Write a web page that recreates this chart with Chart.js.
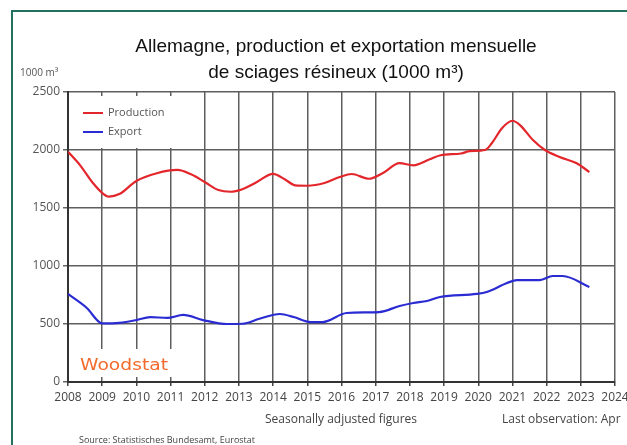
<!DOCTYPE html>
<html>
<head>
<meta charset="utf-8">
<script src="https://cdn.jsdelivr.net/npm/chart.js@4"></script>
<style>
  html, body { margin: 0; padding: 0; background: #fff; }
  canvas { display: block; }
</style>
</head>
<body>
<canvas id="chart" width="627" height="445"></canvas>
<script>
// Valeurs (1000 m3, séries désaisonnalisées)
const prodDates = [2008.0, 2008.35, 2008.73, 2009.0, 2009.2, 2009.5, 2010.0, 2010.6, 2011.2, 2011.6,
    2012.0, 2012.4, 2012.75, 2013.1, 2013.5, 2014.0, 2014.35, 2014.65, 2015.0, 2015.5,
    2015.95, 2016.3, 2016.8, 2017.2, 2017.7, 2018.1, 2018.58, 2018.9, 2019.5, 2019.75,
    2020.2, 2020.4, 2020.7, 2021.0, 2021.22, 2021.6, 2021.95, 2022.38, 2022.88, 2023.25];
const prodValues = [1985, 1870, 1715, 1630, 1598, 1620, 1733, 1800, 1828, 1790,
    1724, 1655, 1640, 1662, 1720, 1795, 1745, 1695, 1692, 1715,
    1767, 1793, 1752, 1800, 1886, 1868, 1920, 1955, 1970, 1990,
    2000, 2060, 2190, 2252, 2215, 2086, 2000, 1940, 1885, 1810];

const exportDates = [2008.0, 2008.55, 2009.0, 2009.5, 2010.0, 2010.4, 2010.9, 2011.37, 2011.95, 2012.65,
    2013.1, 2013.6, 2014.2, 2014.6, 2015.1, 2015.45, 2016.15, 2017.1, 2017.7, 2018.1,
    2018.5, 2018.88, 2019.96, 2020.25, 2020.84, 2021.13, 2021.8, 2022.18, 2022.47, 2023.25];
const exportValues = [759, 638, 505, 510, 534, 560, 552, 578, 534, 500,
    502, 545, 586, 560, 517, 517, 595, 603, 655, 681,
    698, 733, 759, 776, 853, 879, 879, 914, 914, 819];

const seriesNames = ['Production', 'Export'];
const seriesColors = ['#e3262b', '#2b2bd3'];

const yearMin = 2008;
const yearMax = 2024;
const yTicks = [0, 500, 1000, 1500, 2000, 2500];

const titleLines = ['Allemagne, production et exportation mensuelle', 'de sciages résineux (1000 m³)'];

const toPoints = (xs, ys) => xs.map((x, i) => ({ x: x, y: ys[i] }));

const axisFont = { family: "'Open Sans', 'DejaVu Sans', sans-serif", size: 12 };

// fond blanc, cadre vert et textes autour du graphique
const decorPlugin = {
    id: 'decor',
    beforeDraw(chart) {
        const ctx = chart.ctx;
        ctx.save();
        ctx.fillStyle = '#fff';
        ctx.fillRect(0, 0, chart.width, chart.height);
        ctx.strokeStyle = '#22705d';
        ctx.lineWidth = 2;
        ctx.beginPath();
        ctx.moveTo(12, chart.height);
        ctx.lineTo(12, 11);
        ctx.lineTo(chart.width, 11);
        ctx.stroke();
        ctx.restore();
    },
    beforeDatasetsDraw(chart) {
        const ctx = chart.ctx;
        const a = chart.chartArea;
        ctx.save();
        // cases blanches sous la légende et sous le logo
        ctx.fillStyle = '#fff';
        ctx.fillRect(a.left + 2, a.top + 4, 108, 52);
        ctx.fillRect(a.left + 2, a.bottom - 33, 108, 28);

        // légende
        ctx.font = "11px 'Open Sans', 'DejaVu Sans', sans-serif";
        ctx.textBaseline = 'middle';
        chart.data.datasets.forEach((ds, i) => {
            const y = a.top + 21 + i * 19;
            ctx.strokeStyle = ds.borderColor;
            ctx.lineWidth = 2;
            ctx.beginPath();
            ctx.moveTo(a.left + 15, y);
            ctx.lineTo(a.left + 35, y);
            ctx.stroke();
            ctx.fillStyle = '#555';
            ctx.fillText(ds.label, a.left + 40, y);
        });

        // logo Woodstat
        ctx.font = "15px 'DejaVu Sans', sans-serif";
        const w = ctx.measureText('Woodstat').width;
        ctx.translate(a.left + 12, a.bottom - 16);
        ctx.scale(88 / w, 1);
        ctx.fillStyle = '#f26a2c';
        ctx.fillText('Woodstat', 0, 0);
        ctx.restore();
    },
    afterDraw(chart) {
        const ctx = chart.ctx;
        ctx.save();
        ctx.fillStyle = '#111';
        ctx.textAlign = 'center';
        ctx.textBaseline = 'middle';
        ctx.font = "19px 'Liberation Sans', Arial, sans-serif";
        ctx.fillText(titleLines[0], 336, 47);
        ctx.fillText(titleLines[1], 336, 73);

        ctx.textAlign = 'left';
        ctx.fillStyle = '#555';
        ctx.font = "10px 'Open Sans', 'DejaVu Sans', sans-serif";
        ctx.fillText('1000 m³', 20, 73);

        ctx.fillStyle = '#444';
        ctx.font = "12px 'Open Sans', 'DejaVu Sans', sans-serif";
        ctx.fillText('Seasonally adjusted figures', 265, 420);
        ctx.fillText('Last observation: Apr', 502, 420);

        ctx.font = "9px 'Open Sans', 'DejaVu Sans', sans-serif";
        ctx.fillText('Source: Statistisches Bundesamt, Eurostat', 79, 440);
        ctx.restore();
    }
};

const chart = new Chart(document.getElementById('chart'), {
    type: 'line',
    data: {
        datasets: [
            { label: seriesNames[0], data: toPoints(prodDates, prodValues), borderColor: seriesColors[0], backgroundColor: seriesColors[0], borderWidth: 2.2, pointRadius: 0, cubicInterpolationMode: 'monotone' },
            { label: seriesNames[1], data: toPoints(exportDates, exportValues), borderColor: seriesColors[1], backgroundColor: seriesColors[1], borderWidth: 2.2, pointRadius: 0, cubicInterpolationMode: 'monotone' }
        ]
    },
    options: {
        responsive: false,
        animation: false,
        layout: { padding: { top: 92, right: 12, bottom: 43, left: 0 } },
        plugins: {
            legend: { display: false },
            title: { display: false },
            tooltip: { enabled: false }
        },
        scales: {
            x: {
                type: 'linear',
                min: yearMin,
                max: yearMax,
                afterFit: (scale) => { scale.height = 20; scale.paddingLeft = 0; scale.paddingRight = 0; },
                ticks: {
                    stepSize: 1,
                    autoSkip: false,
                    maxRotation: 0,
                    padding: 4,
                    color: '#444',
                    font: axisFont,
                    callback: (v) => String(v)
                },
                grid: { color: '#5e5e5e', lineWidth: 1.5, tickLength: 4, tickColor: '#444' },
                border: { color: '#333', width: 2 }
            },
            y: {
                min: yTicks[0],
                max: yTicks[yTicks.length - 1],
                afterFit: (scale) => { scale.width = 68; },
                afterBuildTicks: (scale) => { scale.ticks = yTicks.map((v) => ({ value: v })); },
                ticks: { padding: 3, color: '#555', font: axisFont, callback: (v) => String(v) },
                grid: { color: '#5e5e5e', lineWidth: 1.5, tickLength: 5, tickColor: '#666' },
                border: { color: '#333', width: 2 }
            }
        }
    },
    plugins: [decorPlugin]
});
</script>
</body>
</html>
